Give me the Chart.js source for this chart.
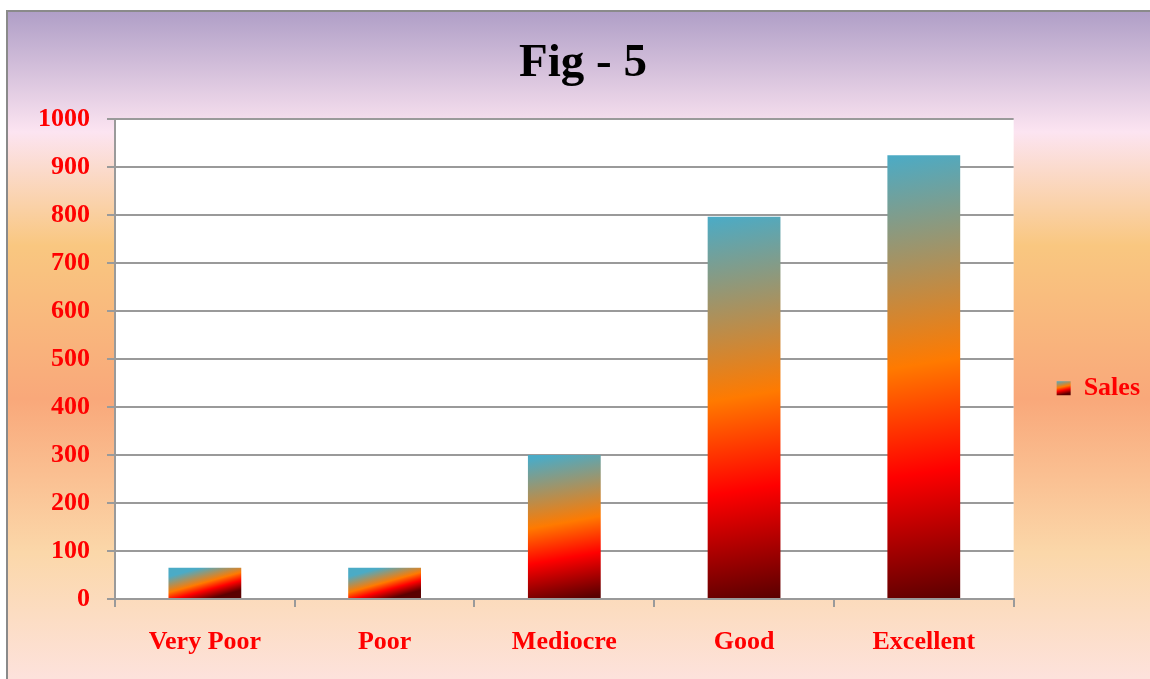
<!DOCTYPE html>
<html>
<head>
<meta charset="utf-8">
<script src="https://cdn.jsdelivr.net/npm/chart.js@4.4.1/dist/chart.umd.min.js"></script>
<style>
  html, body { margin: 0; padding: 0; background: #fff; }
  #wrap { width: 1150px; height: 679px; }
</style>
</head>
<body>
<div id="wrap"><canvas id="salesChart" width="1150" height="679"></canvas></div>
<script>
// data
const categories = ['Very Poor', 'Poor', 'Mediocre', 'Good', 'Excellent'];
const salesValues = [65, 65, 300, 797, 925];
const seriesName = 'Sales';
const yTickMin = 0;
const yTickMax = 1000;
const yTickStep = 100;

const serifFont = '"Liberation Serif", "Times New Roman", serif';
const gridGray = '#9a9a9a';
const labelRed = '#ff0000';

// teal -> orange -> red -> dark red, like the office "fire" fill
function addFireStops(g) {
    g.addColorStop(0, '#4babc6');
    g.addColorStop(0.47, '#ff7a00');
    g.addColorStop(0.71, '#ff0000');
    g.addColorStop(1, '#5a0000');
}

function barFill(context) {
    const chart = context.chart;
    if (!chart.chartArea || context.type !== 'data') return '#ff7a00';
    const xs = chart.scales.x, ys = chart.scales.y;
    const top = ys.getPixelForValue(salesValues[context.dataIndex]);
    const bottom = ys.getPixelForValue(0);
    const cx = xs.getPixelForValue(context.dataIndex);
    const d = (0.15 * (bottom - top) + 4) / 2; // slight tilt
    const g = chart.ctx.createLinearGradient(cx - d, top, cx + d, bottom);
    addFireStops(g);
    return g;
}

// page background frame + white plot area
const frameBackground = {
    id: 'frameBackground',
    beforeDraw(chart) {
        const {ctx, width, height, chartArea} = chart;
        ctx.save();
        ctx.fillStyle = '#ffffff';
        ctx.fillRect(0, 0, width, height);
        const g = ctx.createLinearGradient(0, 12, 0, height);
        g.addColorStop(0, '#b09fc7');
        g.addColorStop(0.18, '#fce4f1');
        g.addColorStop(0.35, '#f9c780');
        g.addColorStop(0.58, '#f9a87a');
        g.addColorStop(0.81, '#fbd7a9');
        g.addColorStop(1, '#fde2dc');
        ctx.fillStyle = g;
        ctx.fillRect(8, 12, width - 8, height - 12);
        ctx.strokeStyle = '#8a8a8a';
        ctx.lineWidth = 2;
        ctx.beginPath();
        ctx.moveTo(7, height);
        ctx.lineTo(7, 11);
        ctx.lineTo(width, 11);
        ctx.stroke();
        ctx.fillStyle = '#ffffff';
        ctx.fillRect(chartArea.left, chartArea.top, chartArea.right - chartArea.left, chartArea.bottom - chartArea.top);
        ctx.restore();
    }
};

// give the legend swatch the same gradient as the bars
const legendSwatch = {
    id: 'legendSwatch',
    afterUpdate(chart) {
        const lg = chart.legend;
        if (!lg || !lg.legendItems || !lg.legendItems.length || !lg.legendHitBoxes.length) return;
        const hb = lg.legendHitBoxes[0];
        const top = hb.top + (hb.height - 14) / 2;
        const g = chart.ctx.createLinearGradient(hb.left, top, hb.left + 3, top + 14);
        addFireStops(g);
        lg.legendItems[0].fillStyle = g;
    }
};

const ctx = document.getElementById('salesChart').getContext('2d');
const salesChart = new Chart(ctx, {
    type: 'bar',
    data: {
        labels: categories,
        datasets: [{
            label: seriesName,
            data: salesValues,
            backgroundColor: barFill,
            borderWidth: 0,
            barPercentage: 0.5,
            categoryPercentage: 0.81
        }]
    },
    options: {
        responsive: false,
        animation: false,
        devicePixelRatio: 1,
        layout: { padding: { left: 16, top: 12, right: 0, bottom: 0 } },
        scales: {
            x: {
                grid: { display: true, drawOnChartArea: false, drawTicks: true, tickLength: 8, color: gridGray, lineWidth: 2, offset: true },
                border: { display: true, color: gridGray, width: 2 },
                ticks: { color: labelRed, font: { family: serifFont, size: 26, weight: 'bold' }, padding: 20 },
                afterFit(scale) { scale.height = 80; }
            },
            y: {
                min: yTickMin,
                max: yTickMax,
                ticks: {
                    stepSize: yTickStep,
                    color: labelRed,
                    font: { family: serifFont, size: 26, weight: 'bold' },
                    padding: 17,
                    callback: (v) => String(v)
                },
                grid: { color: gridGray, lineWidth: 2, tickLength: 8, drawTicks: true },
                border: { display: true, color: gridGray, width: 2 },
                afterFit(scale) { scale.width = 99; }
            }
        },
        plugins: {
            title: {
                display: true,
                text: 'Fig - 5',
                color: '#000000',
                font: { family: serifFont, size: 47, weight: 'bold' },
                padding: { top: 24, bottom: 27 }
            },
            legend: {
                display: true,
                position: 'right',
                align: 'center',
                title: { display: true, text: '', font: { size: 12 }, padding: { top: 0, bottom: 71 } },
                labels: {
                    boxWidth: 14,
                    boxHeight: 14,
                    padding: 43,
                    color: labelRed,
                    font: { family: serifFont, size: 26, weight: 'bold' }
                }
            },
            tooltip: { enabled: false }
        }
    },
    plugins: [frameBackground, legendSwatch]
});
</script>
</body>
</html>
